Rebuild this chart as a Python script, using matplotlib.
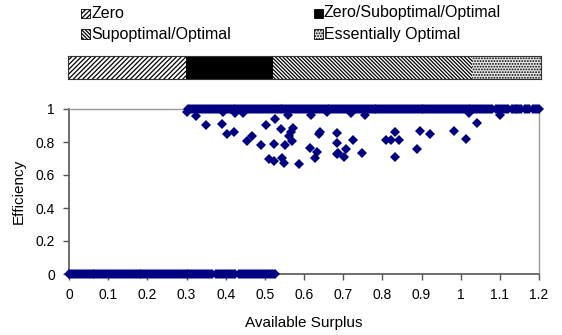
import numpy as np
import matplotlib
matplotlib.use("Agg")
import matplotlib.pyplot as plt
from matplotlib.patches import Rectangle

plt.rcParams["font.family"] = ["Liberation Sans", "DejaVu Sans"]
plt.rcParams["hatch.linewidth"] = 0.9

# ==============================
# DATA
# ==============================
# dense band of zero efficiency
zero_x = [0.000, 0.005, 0.010, 0.015, 0.020, 0.025, 0.030, 0.035, 0.040, 0.045,
          0.050, 0.055, 0.060, 0.065, 0.070, 0.075, 0.080, 0.085, 0.090, 0.095,
          0.100, 0.105, 0.110, 0.115, 0.120, 0.125, 0.130, 0.135, 0.140, 0.145,
          0.150, 0.155, 0.160, 0.165, 0.170, 0.175, 0.180, 0.185, 0.190, 0.195,
          0.200, 0.205, 0.210, 0.215, 0.220, 0.225, 0.230, 0.235, 0.240, 0.245,
          0.250, 0.255, 0.260, 0.265, 0.270, 0.275, 0.280, 0.285, 0.290, 0.295,
          0.300, 0.305, 0.310, 0.315, 0.320, 0.325, 0.330, 0.335, 0.340, 0.345,
          0.350, 0.355, 0.360, 0.365, 0.375, 0.380, 0.385, 0.390, 0.395,
          0.400, 0.405, 0.410, 0.415, 0.420, 0.425, 0.435, 0.440, 0.445,
          0.450, 0.455, 0.460, 0.465, 0.470, 0.475, 0.480, 0.485, 0.490, 0.495,
          0.500, 0.505, 0.510, 0.515, 0.520, 0.525]

# dense band of full efficiency
one_x = [0.305, 0.310, 0.315, 0.320, 0.325, 0.330, 0.335, 0.340, 0.345,
         0.350, 0.355, 0.360, 0.365, 0.370, 0.375, 0.380, 0.385, 0.390, 0.395,
         0.400, 0.405, 0.410, 0.415, 0.420, 0.425, 0.430, 0.435, 0.440, 0.445,
         0.450, 0.455, 0.460, 0.465, 0.470, 0.475, 0.480, 0.485, 0.490, 0.495,
         0.500, 0.505, 0.510, 0.515, 0.520, 0.525, 0.530, 0.535, 0.540, 0.545,
         0.550, 0.555, 0.560, 0.565, 0.570, 0.575, 0.580, 0.585, 0.590, 0.595,
         0.600, 0.605, 0.610, 0.615, 0.620, 0.625, 0.630, 0.635, 0.640, 0.645,
         0.650, 0.655, 0.660, 0.665, 0.670, 0.675, 0.680, 0.685, 0.690, 0.695,
         0.700, 0.705, 0.710, 0.715, 0.720, 0.725, 0.730, 0.735, 0.740, 0.745,
         0.750, 0.755, 0.760, 0.765, 0.770, 0.775, 0.780, 0.785, 0.790, 0.795,
         0.800, 0.805, 0.810, 0.815, 0.820, 0.825, 0.830, 0.835, 0.840, 0.845,
         0.850, 0.855, 0.860, 0.865, 0.870, 0.875, 0.880, 0.885, 0.890, 0.895,
         0.900, 0.905, 0.910, 0.915, 0.920, 0.925, 0.930, 0.935, 0.940, 0.945,
         0.950, 0.955, 0.960, 0.965, 0.970, 0.975, 0.980, 0.985, 0.990, 0.995,
         1.000, 1.005, 1.010, 1.015, 1.020, 1.025, 1.030, 1.035, 1.040, 1.045,
         1.050, 1.055, 1.060, 1.065, 1.070, 1.075, 1.080, 1.090, 1.095,
         1.100, 1.105, 1.110, 1.115, 1.120, 1.130, 1.135, 1.140, 1.145,
         1.150, 1.155, 1.165, 1.170, 1.175, 1.185, 1.190, 1.195, 1.200]

# scattered points between
mid_x = [0.302, 0.323, 0.351, 0.391, 0.393, 0.404, 0.422, 0.423, 0.445,
         0.455, 0.467, 0.490, 0.502, 0.525, 0.559, 0.524, 0.511, 0.524,
         0.543, 0.548, 0.542, 0.573, 0.567, 0.562, 0.569, 0.552, 0.586,
         0.618, 0.615, 0.634, 0.628, 0.641, 0.639, 0.658, 0.685, 0.685,
         0.706, 0.683, 0.688, 0.702, 0.724, 0.747, 0.721, 0.757, 0.832,
         0.809, 0.822, 0.842, 0.833, 0.889, 0.895, 0.922, 0.984, 1.014,
         1.041, 1.101, 1.022]
mid_y = [0.984, 0.958, 0.903, 0.907, 0.984, 0.848, 0.859, 0.978, 0.978,
         0.806, 0.836, 0.782, 0.905, 0.941, 0.962, 0.788, 0.697, 0.683,
         0.701, 0.675, 0.881, 0.887, 0.861, 0.836, 0.806, 0.782, 0.665,
         0.966, 0.762, 0.738, 0.703, 0.862, 0.848, 0.984, 0.856, 0.796,
         0.760, 0.725, 0.731, 0.711, 0.812, 0.733, 0.978, 0.964, 0.859,
         0.810, 0.810, 0.814, 0.711, 0.758, 0.869, 0.848, 0.865, 0.816,
         0.917, 0.962, 0.978]

# regions shown in the bar above the chart
region_names = ["Zero", "Zero/Suboptimal/Optimal", "Supoptimal/Optimal", "Essentially Optimal"]
region_start = [0.0, 0.30, 0.52, 1.025]
region_end = [0.30, 0.52, 1.025, 1.2]
region_face = ["white", "black", "white", "#e8e8e8"]
region_hatch = ["///////", None, "\\\\\\\\\\\\\\\\\\", "......"]

x_ticks = [0, 0.1, 0.2, 0.3, 0.4, 0.5, 0.6, 0.7, 0.8, 0.9, 1.0, 1.1, 1.2]
x_tick_labels = ["0", "0.1", "0.2", "0.3", "0.4", "0.5", "0.6", "0.7", "0.8", "0.9", "1", "1.1", "1.2"]
y_ticks = [0, 0.2, 0.4, 0.6, 0.8, 1.0]
y_tick_labels = ["0", "0.2", "0.4", "0.6", "0.8", "1"]

# ==============================
# FIGURE
# ==============================
fig = plt.figure(figsize=(5.62, 3.35), dpi=100)

ax = fig.add_axes([69 / 562, 1 - 274 / 335, 470 / 562, 165 / 335])
navy = "#000080"
msize = 5.3
ax.plot(zero_x, [0] * len(zero_x), "D", color=navy, ms=msize, mew=0, clip_on=False, zorder=3)
ax.plot(one_x, [1] * len(one_x), "D", color=navy, ms=msize, mew=0, clip_on=False, zorder=3)
ax.plot(mid_x, mid_y, "D", color=navy, ms=msize, mew=0, clip_on=False, zorder=3)

ax.set_xlim(0, 1.2)
ax.set_ylim(0, 1)
ax.set_xticks(x_ticks)
ax.set_xticklabels(x_tick_labels)
ax.set_yticks(y_ticks)
ax.set_yticklabels(y_tick_labels)
ax.tick_params(direction="out", length=4, width=1, color="#555555", labelsize=10, pad=6)

for side in ["left", "bottom"]:
    ax.spines[side].set_color("#555555")
    ax.spines[side].set_linewidth(1.2)
for side in ["top", "right"]:
    ax.spines[side].set_color("#999999")
    ax.spines[side].set_linewidth(1.0)

ax.set_xlabel("Available Surplus", fontsize=11, labelpad=10)
ax.set_ylabel("Efficiency", fontsize=11, labelpad=7)

# ==============================
# REGION BAR
# ==============================
bar = fig.add_axes([68 / 562, 1 - 79 / 335, 473 / 562, 23 / 335])
for s, e, fc, h in zip(region_start, region_end, region_face, region_hatch):
    bar.barh(0, e - s, left=s, height=1, color=fc, hatch=h, edgecolor="black", linewidth=0)
bar.set_xlim(0, 1.2)
bar.set_ylim(-0.5, 0.5)
bar.set_xticks([])
bar.set_yticks([])
for sp in bar.spines.values():
    sp.set_color("#333333")
    sp.set_linewidth(0.8)

# ==============================
# LEGEND (manual)
# ==============================
legend_pos = [(81, 13), (314, 13), (81, 34), (314, 34)]
legend_order = [0, 1, 2, 3]
for i, (px, py) in zip(legend_order, legend_pos):
    sq = Rectangle((px / 562, 1 - (py + 4.5) / 335), 9 / 562, 9 / 335,
                   transform=fig.transFigure, facecolor=region_face[i],
                   hatch=region_hatch[i], edgecolor="black", linewidth=0.6)
    fig.add_artist(sq)
    fig.text((px + 10) / 562, 1 - py / 335, region_names[i], fontsize=11.5,
             va="center", ha="left")

fig.savefig("out.png", dpi=100)
